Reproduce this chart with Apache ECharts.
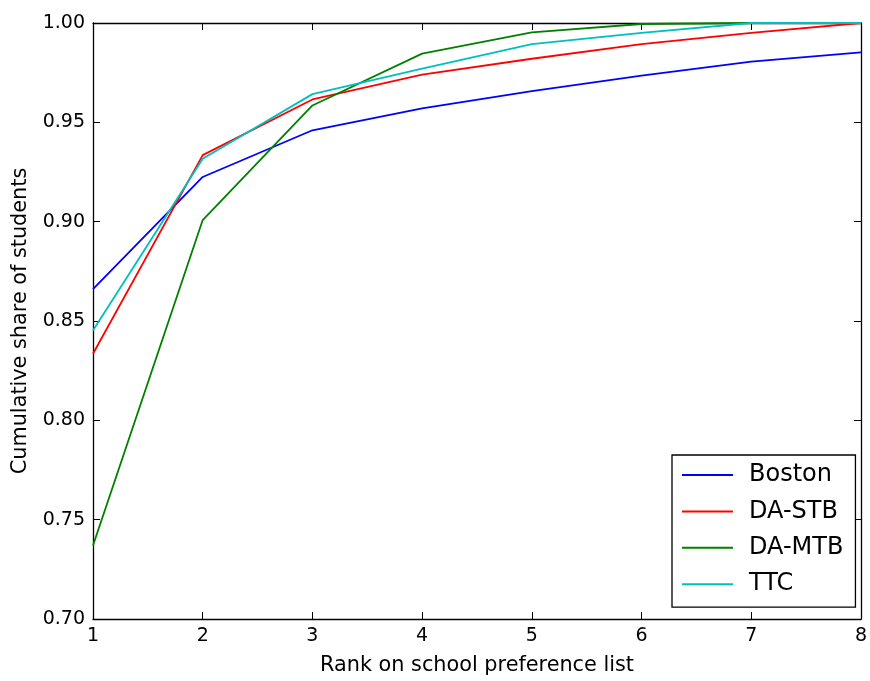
<!DOCTYPE html>
<html>
<head>
<meta charset="utf-8">
<script src="https://cdn.jsdelivr.net/npm/echarts@6/dist/echarts.min.js"></script>
<style>
  html, body { margin: 0; padding: 0; background: #fff; }
  #chart { width: 870px; height: 681px; }
</style>
</head>
<body>
<div id="chart"></div>
<script>
const ranks = [1, 2, 3, 4, 5, 6, 7, 8]
const yTicks = [0.70, 0.75, 0.80, 0.85, 0.90, 0.95, 1.00]
const boston = [0.866, 0.9225, 0.946, 0.957, 0.9657, 0.9735, 0.9806, 0.9852]
const daStb = [0.8335, 0.9335, 0.9615, 0.974, 0.982, 0.9894, 0.995, 1.0]
const daMtb = [0.737, 0.9008, 0.9585, 0.9846, 0.9953, 0.9995, 1.0, 1.0]
const ttc = [0.8452, 0.9317, 0.9642, 0.977, 0.9894, 0.995, 1.0, 1.0]

const font = 'DejaVu Sans'
const pairs = vals => ranks.map((r, i) => [r, vals[i]])

const axisLine = { show: true, lineStyle: { color: '#000', width: 1.3 } }
const tick = { show: true, inside: true, length: 7, lineStyle: { color: '#000', width: 1 } }

function line (name, vals, color) {
    return {
        name: name,
        type: 'line',
        data: pairs(vals),
        symbol: 'none',
        lineStyle: { color: color, width: 1.8 },
        itemStyle: { color: color },
        animation: false
    }
}

const chart = echarts.init(document.getElementById('chart'))
chart.setOption({
    backgroundColor: '#fff',
    textStyle: { fontFamily: font },
    grid: { left: 93, right: 4, top: 23, bottom: 60 },
    legend: {
        orient: 'vertical',
        left: 672,
        top: 455,
        padding: [8, 12, 11, 10],
        icon: 'rect',
        itemWidth: 51,
        itemHeight: 2,
        itemGap: 12.4,
        borderColor: '#000',
        borderWidth: 1.3,
        backgroundColor: '#fff',
        textStyle: { fontFamily: font, fontSize: 24, color: '#000', lineHeight: 24, padding: [0, 0, 0, 11] },
        data: ['Boston', 'DA-STB', 'DA-MTB', 'TTC']
    },
    xAxis: [
        {
            type: 'value',
            min: 1,
            max: 8,
            interval: 1,
            name: 'Rank on school preference list',
            nameLocation: 'middle',
            nameGap: 36,
            nameTextStyle: { fontFamily: font, fontSize: 20.8, color: '#000' },
            axisLine: axisLine,
            axisTick: tick,
            axisLabel: { fontFamily: font, fontSize: 19, color: '#000', margin: 8 },
            splitLine: { show: false }
        },
        {
            type: 'value',
            position: 'top',
            min: 1,
            max: 8,
            interval: 1,
            axisLine: axisLine,
            axisTick: tick,
            axisLabel: { show: false },
            splitLine: { show: false }
        }
    ],
    yAxis: [
        {
            type: 'value',
            min: yTicks[0],
            max: yTicks[yTicks.length - 1],
            interval: 0.05,
            name: 'Cumulative share of students',
            nameLocation: 'middle',
            nameGap: 62,
            nameTextStyle: { fontFamily: font, fontSize: 20.8, color: '#000' },
            axisLine: axisLine,
            axisTick: tick,
            axisLabel: {
                fontFamily: font,
                fontSize: 19,
                color: '#000',
                margin: 8,
                formatter: v => v.toFixed(2)
            },
            splitLine: { show: false }
        },
        {
            type: 'value',
            position: 'right',
            min: yTicks[0],
            max: yTicks[yTicks.length - 1],
            interval: 0.05,
            axisLine: axisLine,
            axisTick: tick,
            axisLabel: { show: false },
            splitLine: { show: false }
        }
    ],
    series: [
        line('Boston', boston, '#0000ff'),
        line('DA-STB', daStb, '#ff0000'),
        line('DA-MTB', daMtb, '#008000'),
        line('TTC', ttc, '#00bfbf')
    ]
})
</script>
</body>
</html>
